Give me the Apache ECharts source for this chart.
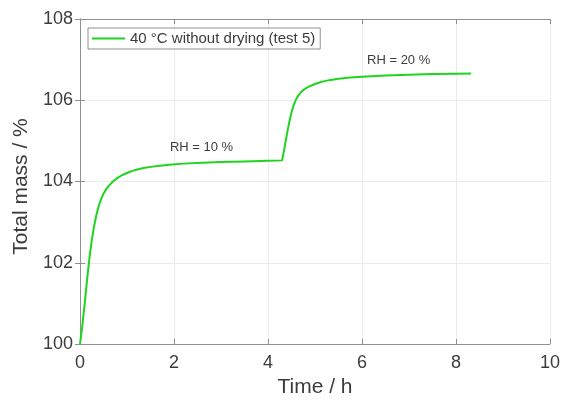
<!DOCTYPE html>
<html>
<head>
<meta charset="utf-8">
<script src="https://cdn.jsdelivr.net/npm/echarts@6/dist/echarts.min.js"></script>
<style>
  html, body { margin: 0; padding: 0; background: #fff; }
  #chart { width: 565px; height: 403px; }
</style>
</head>
<body>
<div id="chart"></div>
<script>
// Time (h) and total mass (%) of the sample, 40 °C without drying
const timeH = [0, 0.05, 0.1, 0.15, 0.2, 0.25, 0.3, 0.35, 0.4, 0.45, 0.5, 0.55, 0.6, 0.7, 0.8, 0.9, 1.0, 1.1, 1.2, 1.35, 1.5, 1.7, 1.9,
               2.2, 2.6, 3.0, 3.5, 4.0, 4.3,
               4.34, 4.38, 4.42, 4.46, 4.5, 4.54, 4.58, 4.62, 4.66, 4.7, 4.75, 4.8, 4.88, 4.94, 5.0, 5.08, 5.18, 5.3, 5.5, 5.75, 6.0, 6.5, 7.0, 7.5, 8.0, 8.32];
const massPct = [100, 100.45, 101.0, 101.58, 102.1, 102.55, 102.9, 103.18, 103.4, 103.57, 103.7, 103.8, 103.88, 104.0, 104.09, 104.16, 104.21, 104.255, 104.29, 104.33, 104.36, 104.39, 104.41,
                 104.44, 104.46, 104.48, 104.495, 104.51, 104.52,
                 104.76, 105.02, 105.27, 105.5, 105.7, 105.86, 105.98, 106.07, 106.14, 106.195, 106.25, 106.29, 106.34, 106.37, 106.4, 106.43, 106.465, 106.495, 106.53, 106.56, 106.58, 106.61, 106.63, 106.645, 106.655, 106.66];

const seriesName = '40 °C without drying (test 5)';
const annotations = [
  { text: 'RH = 10 %', t: 2.585, m: 104.83 },
  { text: 'RH = 20 %', t: 6.78, m: 106.98 }
];
const xTicks = [0, 2, 4, 6, 8, 10];
const yTicks = [100, 102, 104, 106, 108];

const FONT = '"Liberation Sans", Arial, Helvetica, sans-serif';
const AXIS_COLOR = '#8f8f8f';
const TEXT_COLOR = '#3c3c3c';
const GRID_COLOR = '#ebebeb';
const LINE_COLOR = '#1fd41f';

const chart = echarts.init(document.getElementById('chart'), null, { renderer: 'canvas' });

// Top and right axes only close the box and repeat the inward ticks
const boxAxis = {
  axisLine: { show: true, lineStyle: { color: AXIS_COLOR, width: 1 } },
  axisTick: { show: true, inside: true, length: 5, lineStyle: { color: AXIS_COLOR } },
  axisLabel: { show: false },
  splitLine: { show: false }
};

chart.setOption({
  animation: false,
  textStyle: { fontFamily: FONT },
  grid: { left: 80, right: 15, top: 19, bottom: 57, containLabel: false },
  legend: {
    data: [seriesName],
    left: 88, top: 28,
    padding: [3, 5, 3, 4],
    borderColor: '#8f8f8f', borderWidth: 1,
    backgroundColor: '#fff',
    itemWidth: 33, itemHeight: 2, itemGap: 5,
    icon: 'rect',
    textStyle: { fontSize: 15, color: TEXT_COLOR, fontFamily: FONT }
  },
  xAxis: [
    {
      type: 'value', min: xTicks[0], max: xTicks[xTicks.length - 1], interval: 2,
      name: 'Time / h', nameLocation: 'middle', nameGap: 33,
      nameTextStyle: { fontSize: 21, color: TEXT_COLOR, fontFamily: FONT },
      axisLine: { show: true, lineStyle: { color: AXIS_COLOR, width: 1 } },
      axisTick: { show: true, inside: true, length: 5, lineStyle: { color: AXIS_COLOR } },
      axisLabel: { fontSize: 18, color: TEXT_COLOR, margin: 10, fontFamily: FONT },
      splitLine: { show: true, lineStyle: { color: GRID_COLOR, width: 1 } }
    },
    Object.assign({ type: 'value', position: 'top', min: 0, max: 10, interval: 2 }, boxAxis)
  ],
  yAxis: [
    {
      type: 'value', min: yTicks[0], max: yTicks[yTicks.length - 1], interval: 2,
      name: 'Total mass / %', nameLocation: 'middle', nameGap: 46, nameRotate: 90,
      nameTextStyle: { fontSize: 21, color: TEXT_COLOR, fontFamily: FONT, padding: [0, 10, 0, 0] },
      axisLine: { show: true, lineStyle: { color: AXIS_COLOR, width: 1 } },
      axisTick: { show: true, inside: true, length: 5, lineStyle: { color: AXIS_COLOR } },
      axisLabel: { fontSize: 18, color: TEXT_COLOR, margin: 7, fontFamily: FONT },
      splitLine: { show: true, lineStyle: { color: GRID_COLOR, width: 1 } }
    },
    Object.assign({ type: 'value', position: 'right', min: 100, max: 108, interval: 2 }, boxAxis)
  ],
  series: [
    {
      name: seriesName,
      type: 'line',
      data: timeH.map((t, i) => [t, massPct[i]]),
      smooth: false,
      showSymbol: false,
      lineStyle: { color: LINE_COLOR, width: 2, join: 'round' },
      itemStyle: { color: LINE_COLOR },
      markPoint: {
        symbol: 'circle', symbolSize: 0,
        label: {
          show: true, position: 'inside',
          fontSize: 13, color: TEXT_COLOR, fontFamily: FONT,
          formatter: p => p.name
        },
        data: annotations.map(a => ({ name: a.text, coord: [a.t, a.m] }))
      }
    }
  ]
});
</script>
</body>
</html>
